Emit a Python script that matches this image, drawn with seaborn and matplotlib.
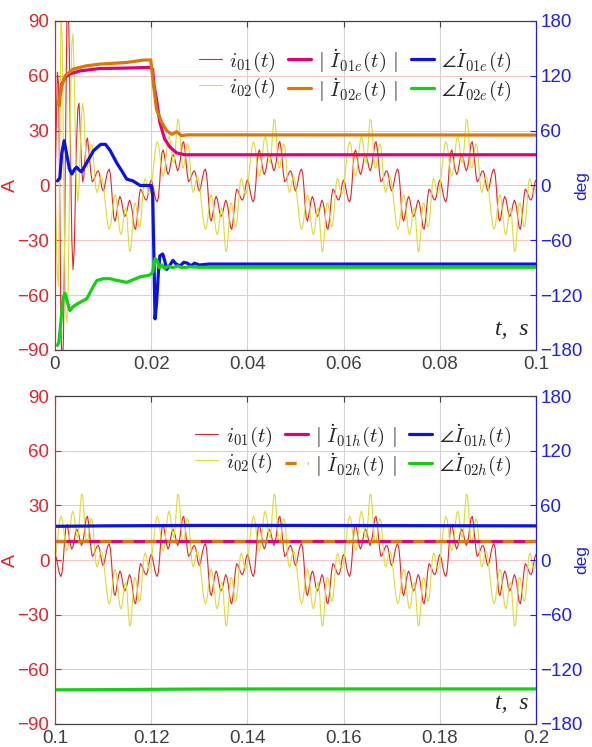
import numpy as np
import matplotlib
matplotlib.use("Agg")
import matplotlib.pyplot as plt
import seaborn as sns

# ---- data ----
# one 20 ms period of the steady-state currents (A), samples 0.25 ms apart
i01_period = [3, 1.5, -2, -5.5, -8, -9, -6.5, 1, 11, 18, 19.5, 16.5, 12, 8, 6, 7.5,
              11, 15, 17, 16, 13.5, 10, 8, 9.5, 13, 18.5, 23, 24, 20, 13, 6, 2,
              2.7, 4.3, 6.1, 7.6, 8, 6.4, 2.5, -1.4,
              -3, -1.5, 2, 5.5, 8, 9, 6.5, -1, -11, -18, -19.5, -16.5, -12, -8, -6, -7.5,
              -11, -15, -17, -16, -13.5, -10, -8, -9.5, -13, -18.5, -23, -24, -20, -13, -6, -2,
              -2.7, -4.3, -6.1, -7.6, -8, -6.4, -2.5, 1.4]
i02_period = [-1.2, 4.3, 10.8, 17.1, 21.8, 24, 22.7, 18.1, 12.0, 7.0, 5, 7.3, 13.2, 20.2,
              25.5, 26.9, 23.9, 18.3, 13.4, 12.2, 18.3, 28.8, 36.2, 35.5, 27.3, 16.6, 9.7,
              9.8, 13.8, 19.2, 22.7, 21.8, 15.1, 5.7, -1.8, -3.9, -1.75, 2.0, 4.7, 4.4,
              1.2, -4.3, -10.8, -17.1, -21.8, -24, -22.7, -18.1, -12.0, -7.0, -5, -7.3, -13.2,
              -20.2, -25.5, -26.9, -23.9, -18.3, -13.4, -12.2, -18.3, -28.8, -36.2, -35.5,
              -27.3, -16.6, -9.7, -9.8, -13.8, -19.2, -22.7, -21.8, -15.1, -5.7, 1.8, 3.9,
              1.75, -2.0, -4.7, -4.4]
# start-up transient of the first panel, 0 ... 6.75 ms
i01_start = [0, 30, 62, 55, -10, -80, -100, -85, -30, 40, 95, 100, 70, 15, -30, -46,
             -35, -5, 25, 42, 45, 30, 12, 2, 5, 15, 24, 26]
i02_start = [0, -25, -50, -55, 20, 95, 80, 20, -40, -70, -75, -55, -5, 45, 78, 83,
             60, 25, 0, -9, 0, 20, 38, 45, 40, 25, 12, 10]

# estimated phasors, first panel
mag01e_t = [0.0011, 0.0014, 0.0021, 0.003, 0.0052, 0.0093, 0.014, 0.0197, 0.0203, 0.0206,
            0.0211, 0.0218, 0.0228, 0.0239, 0.0253, 0.027, 0.1]
mag01e_v = [50, 55.5, 59, 61, 62.7, 64, 64.2, 64.6, 63.5, 54.5, 47, 34.5, 25.4, 21, 17.8,
            16.8, 16.8]
mag02e_t = [0.0006, 0.0009, 0.0012, 0.0021, 0.0038, 0.0066, 0.0093, 0.0149, 0.0183, 0.0199,
            0.0205, 0.0211, 0.0222, 0.0232, 0.0243, 0.0253, 0.0263, 0.0274, 0.1]
mag02e_v = [46, 43.6, 52.7, 60, 63.7, 65.5, 66.4, 67.3, 68.6, 68.7, 54.5, 41.8, 34.5, 30,
            28, 29.4, 27.2, 27.7, 27.6]
ang01e_t = [0.0005, 0.0010, 0.0014, 0.0019, 0.0024, 0.0030, 0.0035, 0.0041, 0.0045, 0.0050,
            0.0055, 0.0065, 0.0080, 0.0095, 0.0105, 0.0115, 0.0128, 0.0140, 0.0149, 0.0162,
            0.0177, 0.0200, 0.0203, 0.0205, 0.0208, 0.0211, 0.0215, 0.0218, 0.0224, 0.0228,
            0.0232, 0.0238, 0.0245, 0.0252, 0.0260, 0.0268, 0.0275, 0.0283, 0.029, 0.030,
            0.032, 0.1]
ang01e_v = [5, 8, 35, 49, 35, 18, 12.6, 18, 20, 17, 15, 24, 38, 45, 45, 38, 25, 15, 7, 5,
            0, 0, -10, -60, -146, -130, -95, -77, -75, -82, -92, -88, -82, -86, -88, -84,
            -85, -88, -85, -87, -86, -86]
ang02e_t = [0.0005, 0.0008, 0.0012, 0.0017, 0.0021, 0.0026, 0.0031, 0.0037, 0.0045, 0.0055,
            0.0066, 0.0078, 0.0087, 0.0100, 0.0114, 0.0130, 0.0149, 0.0163, 0.0177, 0.0197,
            0.0203, 0.0208, 0.0212, 0.0217, 0.0222, 0.0228, 0.0235, 0.0245, 0.0255, 0.0265,
            0.028, 0.030, 0.1]
ang02e_v = [-175, -172, -150, -122, -118, -128, -137, -133, -130, -127, -124, -112, -104,
            -102, -102, -104, -106, -103, -100, -98, -95, -80, -82, -90, -87, -91, -88, -90,
            -88, -90, -89, -89.5, -89.5]

# estimated phasors, second panel
h_t = [0.1, 0.11, 0.13, 0.15, 0.17, 0.19, 0.2]
mag01h_v = [10.6, 10.6, 10.6, 10.6, 10.6, 10.6, 10.6]
mag02h_v = [10.6, 10.6, 10.6, 10.6, 10.6, 10.6, 10.6]
ang01h_v = [37, 37.5, 38, 38, 37.8, 37.6, 37.5]
ang02h_v = [-142.5, -142.3, -141.6, -141.5, -141.5, -141.5, -141.5]

dt = 0.00025
t_top = np.arange(401) * dt
t_bot = 0.1 + np.arange(401) * dt
i01_top = np.tile(i01_period, 6)[:401].astype(float)
i02_top = np.tile(i02_period, 6)[:401].astype(float)
i01_top[:len(i01_start)] = i01_start
i02_top[:len(i02_start)] = i02_start
i01_bot = np.tile(i01_period, 6)[:401]
i02_bot = np.tile(i02_period, 6)[:401]

# ---- style ----
sns.set_style("white")
plt.rcParams["font.family"] = ["Liberation Sans", "DejaVu Sans"]
plt.rcParams["mathtext.fontset"] = "cm"

RED = "#e0262b"
YEL = "#dcdc3a"
MAG = "#e2007a"
ORA = "#d9780a"
BLU = "#0a14e0"
GRN = "#12d012"
AX_RED = "#e0262b"
AX_BLU = "#2020e8"
DARK = "#404040"
LW = 2.3

fig = plt.figure(figsize=(5.92, 7.47), dpi=100)
ax_top = fig.add_axes([0.0929, 0.5315, 0.8125, 0.4404])
ax_bot = fig.add_axes([0.0929, 0.0308, 0.8125, 0.4390])


def panel(ax, t, i01, i02, mags, angs, sub, xlim, xticks, xlabels, dashed_mag2):
    ax2 = ax.twinx()
    sns.lineplot(x=t, y=i01, ax=ax, color=RED, lw=0.8, estimator=None)
    sns.lineplot(x=t, y=i02, ax=ax, color=YEL, lw=0.8, estimator=None)
    (m1t, m1v), (m2t, m2v) = mags
    sns.lineplot(x=m1t, y=m1v, ax=ax, color=MAG, lw=LW, estimator=None)
    if dashed_mag2:
        sns.lineplot(x=m2t, y=m2v, ax=ax, color=ORA, lw=LW, estimator=None,
                     linestyle=(0, (3.5, 3.5)))
    else:
        sns.lineplot(x=m2t, y=m2v, ax=ax, color=ORA, lw=LW, estimator=None)
    (a1t, a1v), (a2t, a2v) = angs
    sns.lineplot(x=a1t, y=a1v, ax=ax2, color=BLU, lw=LW, estimator=None)
    sns.lineplot(x=a2t, y=a2v, ax=ax2, color=GRN, lw=LW, estimator=None)
    lines = ax.get_lines() + ax2.get_lines()

    ax.set_xlim(*xlim)
    ax.set_ylim(-90, 90)
    ax2.set_ylim(-180, 180)
    ax.set_xticks(xticks)
    ax.set_xticklabels(xlabels)
    ax.set_yticks(range(-90, 91, 30))
    ax2.set_yticks(range(-180, 181, 60))

    ax.xaxis.grid(True, color="#d2d2d2", lw=0.8)
    ax.yaxis.grid(True, color="#f4c6c8", lw=0.8)
    ax2.grid(False)
    ax.set_axisbelow(True)

    ax.tick_params(axis="x", direction="in", top=True, colors=DARK, labelsize=13.5,
                   length=4, pad=4)
    ax.tick_params(axis="y", direction="in", colors=AX_RED, labelsize=13.5, length=4, pad=4)
    ax2.tick_params(axis="y", direction="in", colors=AX_BLU, labelsize=13.5, length=4, pad=3)
    for a in (ax, ax2):
        a.spines["top"].set_color(DARK)
        a.spines["bottom"].set_color(DARK)
        a.spines["left"].set_color(AX_RED)
        a.spines["right"].set_color(AX_BLU)
    ax.set_ylabel("A", color=AX_RED, fontsize=14)
    ax.yaxis.set_label_coords(-0.074, 0.5)
    ax2.set_ylabel("deg", color=AX_BLU, fontsize=12.5)
    ax2.yaxis.set_label_coords(1.08, 0.5)
    ax.set_xlabel("")

    labels = [r"$i_{01}(t)$", r"$i_{02}(t)$",
              r"$|\ \dot{I}_{01%s}(t)\ |$" % sub, r"$|\ \dot{I}_{02%s}(t)\ |$" % sub,
              r"$\angle\dot{I}_{01%s}(t)$" % sub, r"$\angle\dot{I}_{02%s}(t)$" % sub]
    ax2.legend(lines, labels, ncol=3, loc="upper right", bbox_to_anchor=(0.975, 0.96),
               frameon=False, fontsize=15, handlelength=1.1, handletextpad=0.35,
               columnspacing=0.6, labelspacing=0.1, borderaxespad=0.2)
    ax2.text(0.985, 0.03, "t,  s", transform=ax2.transAxes, ha="right", va="bottom",
             fontsize=17, family="Liberation Serif", style="italic")
    return ax2


panel(ax_top, t_top, i01_top, i02_top,
      [(mag01e_t, mag01e_v), (mag02e_t, mag02e_v)],
      [(ang01e_t, ang01e_v), (ang02e_t, ang02e_v)],
      "e", (0, 0.1), [0, 0.02, 0.04, 0.06, 0.08, 0.1],
      ["0", "0.02", "0.04", "0.06", "0.08", "0.1"], False)
panel(ax_bot, t_bot, i01_bot, i02_bot,
      [(h_t, mag01h_v), (h_t, mag02h_v)],
      [(h_t, ang01h_v), (h_t, ang02h_v)],
      "h", (0.1, 0.2), [0.1, 0.12, 0.14, 0.16, 0.18, 0.2],
      ["0.1", "0.12", "0.14", "0.16", "0.18", "0.2"], True)

fig.savefig("out.png", dpi=100)
